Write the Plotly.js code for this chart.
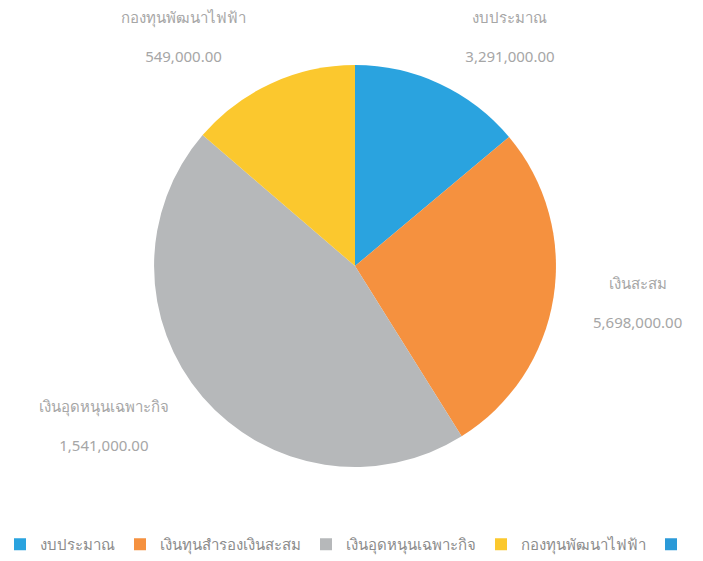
<!DOCTYPE html>
<html>
<head>
<meta charset="utf-8">
<script src="https://cdn.plot.ly/plotly-3.0.1.min.js"></script>
<style>html,body{margin:0;padding:0;background:#fff;}#chart{width:703px;height:561px;}</style>
</head>
<body>
<div id="chart"></div>
<script>
// Legend names of the slices (plus an empty fifth entry seen at the far right)
const legendLabels = ['งบประมาณ', 'เงินทุนสำรองเงินสะสม', 'เงินอุดหนุนเฉพาะกิจ', 'กองทุนพัฒนาไฟฟ้า', ' '];
// Names printed next to the slices
const sliceLabels = ['งบประมาณ', 'เงินสะสม', 'เงินอุดหนุนเฉพาะกิจ', 'กองทุนพัฒนาไฟฟ้า', ''];
// Amounts printed next to the slices
const amountLabels = ['3,291,000.00', '5,698,000.00', '1,541,000.00', '549,000.00', ''];
// Slice shares as drawn in the picture (percent of the circle)
const sliceShares = [13.9, 27.2, 45.2, 13.7, 0];
const sliceColors = ['#2aa3df', '#f5913f', '#b6b8ba', '#fbc82e', '#2b9ad8'];

const templates = sliceLabels.map(s => s ? '%{text}<br><br>%{customdata}' : '');

// Visible pie (no text)
const pieTrace = {
  type: 'pie',
  labels: legendLabels,
  values: sliceShares,
  sort: false,
  direction: 'clockwise',
  rotation: 0,
  marker: {colors: sliceColors, line: {width: 0}},
  textinfo: 'none',
  domain: {x: [0.219, 0.791], y: [0.1676, 0.884]},
  automargin: false,
  hoverinfo: 'none'
};

// Transparent, slightly larger copy that carries the outside labels
const labelTrace = {
  type: 'pie',
  labels: legendLabels,
  values: sliceShares,
  text: sliceLabels,
  customdata: amountLabels,
  texttemplate: templates,
  textinfo: 'text',
  textposition: 'outside',
  outsidetextfont: {size: 15, color: '#a6a6a6'},
  sort: false,
  direction: 'clockwise',
  rotation: 0,
  marker: {colors: sliceColors.map(() => 'rgba(0,0,0,0)'), line: {width: 0}},
  domain: {x: [0.1835, 0.8265], y: [0.123, 0.9287]},
  automargin: false,
  showlegend: false,
  hoverinfo: 'none'
};

const layout = {
  width: 703, height: 561,
  margin: {l: 0, r: 0, t: 0, b: 0},
  paper_bgcolor: '#ffffff',
  font: {family: 'Noto Sans, DejaVu Sans, sans-serif', color: '#8a8a8a'},
  showlegend: true,
  legend: {
    orientation: 'h', x: 0.0, xanchor: 'left', y: 0.0, yanchor: 'bottom',
    font: {size: 15, color: '#8c8c8c'},
    itemclick: false, itemdoubleclick: false
  }
};

Plotly.newPlot('chart', [pieTrace, labelTrace], layout, {displayModeBar: false, staticPlot: true});
</script>
</body>
</html>
